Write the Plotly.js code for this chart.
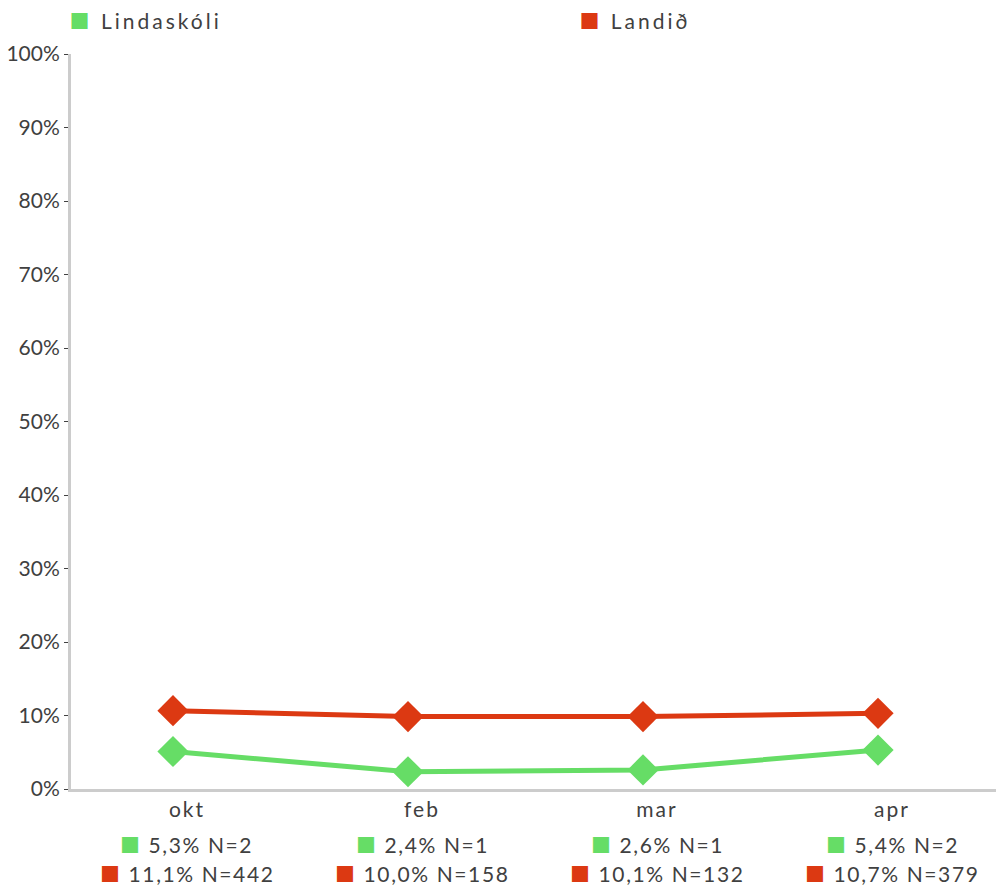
<!DOCTYPE html>
<html>
<head>
<meta charset="utf-8">
<script src="https://cdn.plot.ly/plotly-3.0.1.min.js"></script>
<style>
html,body{margin:0;padding:0;background:#fff;}
#chart{width:996px;height:888px;}
.xtick text{letter-spacing:2px;}
.annotation-text{letter-spacing:1.6px;}
.annotation[data-index="8"] .annotation-text,
.annotation[data-index="9"] .annotation-text{letter-spacing:3px;}
</style>
</head>
<body>
<div id="chart"></div>
<script>
const months = ["okt", "feb", "mar", "apr"];
const seriesNames = ["Lindaskóli", "Landið"];
const lindaskoli = [5.1, 2.35, 2.6, 5.3];
const landid = [10.65, 9.85, 9.85, 10.3];
const lindaskoliLabels = ["5,3% N=2", "2,4% N=1", "2,6% N=1", "5,4% N=2"];
const landidLabels = ["11,1% N=442", "10,0% N=158", "10,1% N=132", "10,7% N=379"];

const GREEN = "#66dd66";
const RED = "#dc3912";
const TXT = "#404040";
const FONT = "Lato, 'Open Sans', sans-serif";

const traces = [
  {x: months, y: lindaskoli, name: seriesNames[0], type: "scatter", mode: "lines+markers",
   line: {color: GREEN, width: 5}, marker: {symbol: "diamond", size: 24, color: GREEN}, showlegend: false},
  {x: months, y: landid, name: seriesNames[1], type: "scatter", mode: "lines+markers",
   line: {color: RED, width: 5}, marker: {symbol: "diamond", size: 24, color: RED}, showlegend: false}
];

const sq = c => '<span style="color:' + c + ';font-family:Noto Sans CJK JP;font-size:20px">■</span>';
const annotations = [];
const T = 54, B = 99, H = 888;
const ph = H - T - B;
const py = v => (H - B - v) / ph;
months.forEach((m, i) => {
  annotations.push({x: m, xref: "x", y: py(844), yref: "paper", text: sq(GREEN) + " " + lindaskoliLabels[i],
    showarrow: false, xanchor: "center", yanchor: "middle", xshift: 14, borderpad: 0, font: {size: 21, color: TXT, family: FONT}});
  annotations.push({x: m, xref: "x", y: py(874), yref: "paper", text: sq(RED) + " " + landidLabels[i],
    showarrow: false, xanchor: "center", yanchor: "middle", xshift: 14, borderpad: 0, font: {size: 21, color: TXT, family: FONT}});
});
annotations.push({x: (76 - 71) / 925, xref: "paper", y: py(21), yref: "paper", text: sq(GREEN) + " " + seriesNames[0],
  showarrow: false, xanchor: "left", yanchor: "middle", font: {size: 21, color: TXT, family: FONT}});
annotations.push({x: (583 - 71) / 925, xref: "paper", y: py(21), yref: "paper", text: sq(RED) + " " + seriesNames[1],
  showarrow: false, xanchor: "left", yanchor: "middle", font: {size: 21, color: TXT, family: FONT}});

const layout = {
  width: 996, height: 888,
  margin: {l: 71, r: 0, t: T, b: B, pad: 0},
  paper_bgcolor: "#fff", plot_bgcolor: "#fff",
  font: {family: FONT, size: 20, color: TXT},
  showlegend: false,
  xaxis: {type: "category", range: [-0.434, 3.502], showgrid: false, zeroline: false,
    showline: true, linecolor: "#cccccc", linewidth: 3, ticks: "", ticklabelshift: 14,
    tickfont: {size: 21, color: TXT, family: FONT}, fixedrange: true},
  yaxis: {range: [0, 100], dtick: 10, ticksuffix: "%", showgrid: false, zeroline: false,
    showline: true, linecolor: "#cccccc", linewidth: 3, ticks: "outside", ticklen: 4, tickcolor: TXT, tickwidth: 1,
    tickfont: {size: 21, color: TXT, family: FONT}, fixedrange: true},
  annotations: annotations
};

Plotly.newPlot("chart", traces, layout, {displayModeBar: false, staticPlot: true});
</script>
</body>
</html>
